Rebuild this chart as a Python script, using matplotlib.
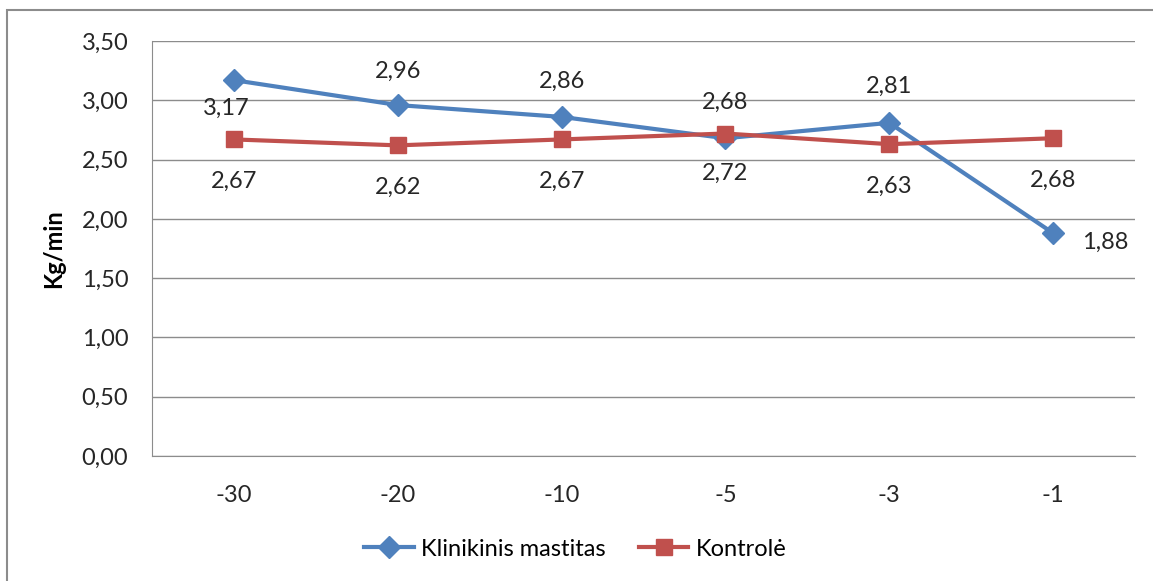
import matplotlib.pyplot as plt
from matplotlib.patches import Rectangle

plt.rcParams['font.family'] = ['Lato', 'DejaVu Sans']

# dienos iki diagnozės
days = ["-30", "-20", "-10", "-5", "-3", "-1"]
mastitas = [3.17, 2.96, 2.86, 2.68, 2.81, 1.88]
kontrole = [2.67, 2.62, 2.67, 2.72, 2.63, 2.68]
y_ticks = [0.0, 0.5, 1.0, 1.5, 2.0, 2.5, 3.0, 3.5]

# label offsets in pixels (dx, dy)
mastitas_offsets = [(-8, -28), (0, 34), (0, 36), (0, 36), (0, 36), (52, -9)]
kontrole_offsets = [(0, -42), (0, -42), (0, -42), (0, -40), (0, -42), (0, -42)]

blue = "#4F81BD"
red = "#C0504D"
txt = "#262626"
fs = 17


def fmt(v):
    return ("%.2f" % v).replace(".", ",")


fig = plt.figure(figsize=(11.53, 5.81), dpi=100)
ax = fig.add_axes([0.1318, 0.2151, 0.8526, 0.7143])

x = list(range(len(days)))
ax.plot(x, mastitas, color=blue, lw=3, marker="D", ms=11, label="Klinikinis mastitas", zorder=3)
ax.plot(x, kontrole, color=red, lw=3, marker="s", ms=12, label="Kontrolė", zorder=3)

for i, v in enumerate(mastitas):
    dx, dy = mastitas_offsets[i]
    ax.annotate(fmt(v), (i, v), xytext=(dx, dy), textcoords="offset pixels",
                ha="center", va="center", fontsize=fs, color=txt)
for i, v in enumerate(kontrole):
    dx, dy = kontrole_offsets[i]
    ax.annotate(fmt(v), (i, v), xytext=(dx, dy), textcoords="offset pixels",
                ha="center", va="center", fontsize=fs, color=txt)

ax.set_xlim(-0.5, len(days) - 0.5)
ax.set_ylim(0, 3.5)
ax.set_xticks(x)
ax.set_xticklabels(days)
ax.set_yticks(y_ticks)
ax.set_yticklabels([fmt(t) for t in y_ticks])
ax.tick_params(axis="both", length=0, labelsize=fs, colors=txt)
ax.tick_params(axis="y", pad=17)
ax.tick_params(axis="x", pad=21)
ax.grid(axis="y", color="#8c8c8c", lw=1)
ax.set_axisbelow(True)
for side in ["top", "right"]:
    ax.spines[side].set_visible(False)
ax.spines["left"].set_color("#8c8c8c")
ax.spines["bottom"].set_color("#8c8c8c")
ax.set_ylabel("Kg/min", fontsize=fs, fontweight="bold", labelpad=12)

fig.legend(loc="center", bbox_to_anchor=(0.499, 0.055), ncol=2, frameon=False,
           fontsize=fs, handlelength=2.1, handletextpad=0.3, columnspacing=1.4)

# rėmelis aplink diagramą
fig.patches.append(Rectangle((7 / 1153, -0.02), 1.02, (581 - 10) / 581 + 0.02,
                             transform=fig.transFigure, fill=False,
                             edgecolor="#8c8c8c", lw=1.5))

fig.savefig("out.png", dpi=100)
